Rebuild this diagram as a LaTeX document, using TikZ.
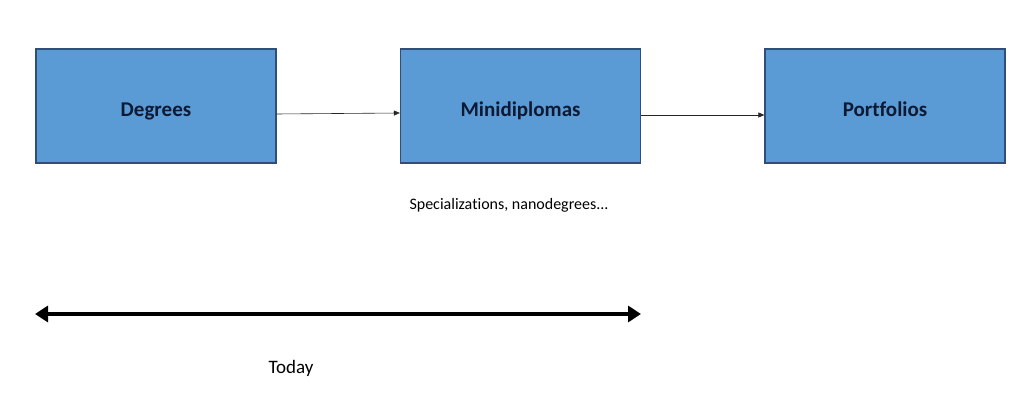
\documentclass[tikz,border=0pt]{standalone}
\usepackage{fontspec}
\setmainfont[Ligatures=NoCommon]{Carlito}
\usetikzlibrary{arrows.meta}
\definecolor{boxfill}{HTML}{5B9BD5}
\definecolor{boxline}{HTML}{2F4E7A}
\definecolor{boxtext}{HTML}{0E1A33}
\tikzset{
  box/.style={draw=boxline, line width=1.2pt, fill=boxfill, minimum width=240pt, minimum height=114pt, inner sep=0pt, text=boxtext, text height=22pt, text depth=0pt, font=\fontsize{21}{24}\selectfont\bfseries},
  flow/.style={draw=black!85, line width=0.6pt, -{Triangle[length=6pt,width=5pt]}},
  span/.style={line width=4pt, {Triangle[length=13pt,width=16pt]}-{Triangle[length=13pt,width=16pt]}}
}
\begin{document}
\begin{tikzpicture}[x=1pt,y=1pt]
\useasboundingbox (0,0) rectangle (1024,401);
\node[box] (deg) at (156,295) {Degrees};
\node[box] (mini) at (520.5,295) {Minidiplomas};
\node[box] (port) at (885,295) {Portfolios};
\draw[flow] ([yshift=-8pt]deg.east) -- ([yshift=-7pt]mini.west);
\draw[flow] ([yshift=-9pt]mini.east) -- ([yshift=-9pt]port.west);
\node[font=\fontsize{16}{19}\selectfont] (spec) at (509,196) {Specializations, nanodegrees...};
\coordinate (la) at (35,87);
\coordinate (ra) at (641,87);
\draw[span] (la) -- (ra);
\node[font=\fontsize{19}{22}\selectfont] (today) at (291,33) {Today};
\end{tikzpicture}
\end{document}
